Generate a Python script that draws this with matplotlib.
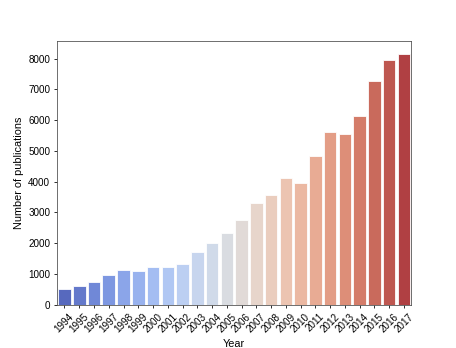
import matplotlib
matplotlib.use("Agg")
import matplotlib.pyplot as plt
import seaborn as sns
import pandas as pd

plt.rcParams["font.family"] = ["Liberation Sans", "DejaVu Sans"]

# Publications per year
years = [str(y) for y in range(1994, 2018)]
counts = [510, 600, 745, 970, 1135, 1090, 1245, 1230, 1330, 1705, 2000, 2335,
          2745, 3295, 3565, 4105, 3945, 4830, 5610, 5555, 6150, 7265, 7955, 8160]

df = pd.DataFrame({"Year": years, "Number of publications": counts})

fig, ax = plt.subplots(figsize=(6.4, 4.874), dpi=71.4)
fig.subplots_adjust(left=0.125, right=0.9, bottom=0.124, top=0.882)
sns.barplot(data=df, x="Year", y="Number of publications", hue="Year",
            palette="coolwarm", legend=False, edgecolor="white", linewidth=0.8,
            width=0.85, ax=ax)
ax.set_xlabel("Year", fontsize=11)
ax.set_ylabel("Number of publications", fontsize=11)
ax.tick_params(labelsize=10)
plt.setp(ax.get_xticklabels(), rotation=45)
for s in ax.spines.values():
    s.set_color("0.3")

fig.savefig("out.png", dpi=71.4)
